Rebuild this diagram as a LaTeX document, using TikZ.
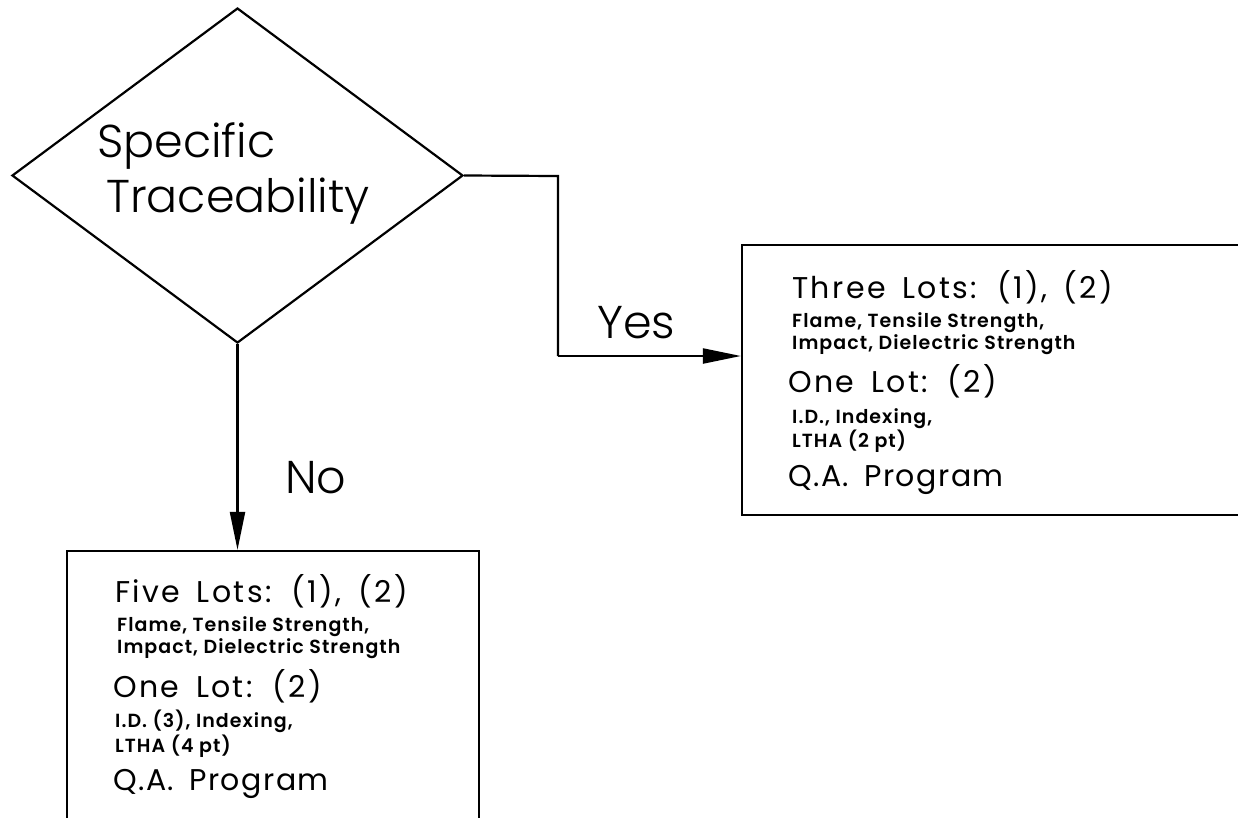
\documentclass[tikz,border=0pt]{standalone}
\usepackage{fontspec}
\setmainfont{Poppins}
\newfontfamily\lightf{Poppins Light}
\newfontfamily\titlef{Poppins}[LetterSpace=8,WordSpace=1.6]
\newfontfamily\qaf{Poppins}[LetterSpace=5,WordSpace=1.6]
\newfontfamily\boldf{Poppins SemiBold}[LetterSpace=5.5]
\usetikzlibrary{shapes.geometric,arrows.meta}
\tikzset{
  line/.style={line width=2.2pt, black},
  arr/.style={line, -{Triangle[length=38pt,width=15pt]}},
  big/.style={anchor=base west, inner sep=0pt, font=\lightf\fontsize{46}{50}\selectfont},
  title/.style={anchor=base west, inner sep=0pt, font=\titlef\fontsize{30}{34}\selectfont},
  qa/.style={anchor=base west, inner sep=0pt, font=\qaf\fontsize{30}{34}\selectfont},
  small/.style={anchor=base west, inner sep=0pt, font=\boldf\fontsize{19}{22}\selectfont},
  boxed/.style={draw, line width=2.2pt, rectangle, inner sep=0pt}
}
\begin{document}
\begin{tikzpicture}[x=1pt,y=-1pt]
\useasboundingbox (0,0) rectangle (1238,817);
\clip (0,0) rectangle (1238,817);
% decision
\node[draw, line width=2.2pt, diamond, inner sep=0pt, minimum width=451pt, minimum height=335pt] (dec) at (237.5,175.5) {};
\node[big] (t1) at (97,157) {Specific};
\node[big] (t2) at (106,212) {Traceability};
% boxes
\node[boxed, minimum width=520pt, minimum height=270pt] (yes) at (1002,380) {};
\node[boxed, minimum width=412pt, minimum height=300pt] (no) at (273,701) {};
% connectors
\coordinate (b1) at (558,176);
\coordinate (b2) at (558,356);
\draw[line] (dec.east) -- (b1) -- (b2);
\draw[arr] (b2) -- (b2 -| yes.west);
\draw[arr] (dec.south) -- (dec.south |- no.north);
\node[big] (lyes) at (597,338) {Yes};
\node[big] (lno) at (285,493) {No};
% right box text
\node[title] (r1) at (792,298) {Three Lots: (1), (2)};
\node[small] (r2) at (792,327) {Flame, Tensile Strength,};
\node[small] (r3) at (792,349) {Impact, Dielectric Strength};
\node[title] (r4) at (788,392) {One Lot: (2)};
\node[small] (r5) at (792,423) {I.D., Indexing,};
\node[small] (r6) at (792,447) {LTHA (2 pt)};
\node[qa] (r7) at (788,486) {Q.A. Program};
% bottom box text
\node[title] (n1) at (115,602) {Five Lots: (1), (2)};
\node[small] (n2) at (117,631) {Flame, Tensile Strength,};
\node[small] (n3) at (117,653) {Impact, Dielectric Strength};
\node[title] (n4) at (113,697) {One Lot: (2)};
\node[small] (n5) at (115,727) {I.D. (3), Indexing,};
\node[small] (n6) at (115,752) {LTHA (4 pt)};
\node[qa] (n7) at (113,790) {Q.A. Program};
\end{tikzpicture}
\end{document}
